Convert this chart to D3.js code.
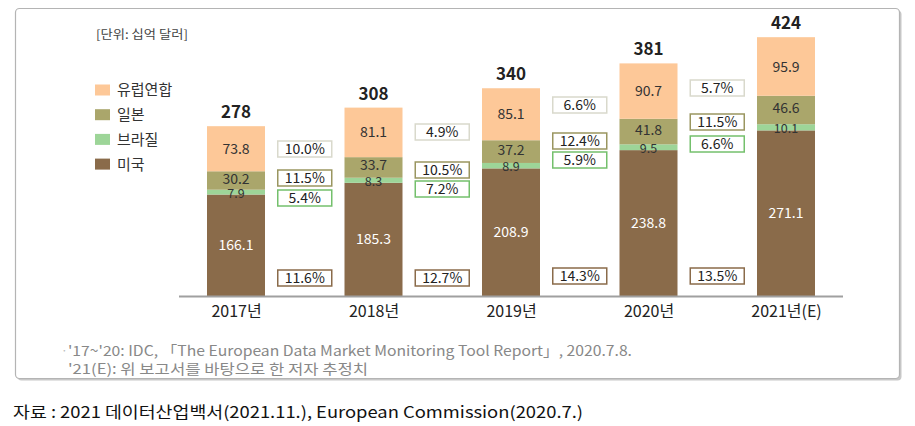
<!DOCTYPE html>
<html><head><meta charset="utf-8">
<script src="https://cdn.jsdelivr.net/npm/d3@7"></script>
<style>
html,body{margin:0;padding:0;background:#fff;}
svg{display:block;}
text{font-family:"Noto Sans CJK KR","Noto Sans",sans-serif;}
</style></head>
<body><svg id="c" width="915" height="426"></svg>
<script>
// ---- data ----
const years = ["2017년","2018년","2019년","2020년","2021년(E)"];
const seriesNames = ["미국","브라질","일본","유럽연합"];
const us = [166.1,185.3,208.9,238.8,271.1];
const brazil = [7.9,8.3,8.9,9.5,10.1];
const japan = [30.2,33.7,37.2,41.8,46.6];
const eu = [73.8,81.1,85.1,90.7,95.9];
const totals = [278,308,340,381,424];
const euGrowth = ["10.0%","4.9%","6.6%","5.7%"];
const jpGrowth = ["11.5%","10.5%","12.4%","11.5%"];
const brGrowth = ["5.4%","7.2%","5.9%","6.6%"];
const usGrowth = ["11.6%","12.7%","14.3%","13.5%"];
const legendOrder = ["유럽연합","일본","브라질","미국"];

// ---- layout / style ----
const colors = {"미국":"#8a6b4a","브라질":"#9dd598","일본":"#aaa66b","유럽연합":"#fdc898"};
const boxBorder = {"미국":"#8a6b4a","브라질":"#74c06c","일본":"#9a9660","유럽연합":"#d9d9cc"};
const labelColor = {"미국":"#ffffff","브라질":"#333","일본":"#333","유럽연합":"#333"};
const labelShift = {"미국":0,"브라질":1,"일본":-2,"유럽연합":0};
// growth box vertical centers (px) per gap
const boxY = {
  "유럽연합":[149,132,105,88],
  "일본":[178,170,141,122],
  "브라질":[198,189,160,144],
  "미국":[278,278,276,276]
};

const svg = d3.select("#c");
const x = d3.scalePoint().domain(years).range([236,786]);
const y = d3.scaleLinear().domain([0,424]).range([296,37]);
const barW = 58;

// frame
svg.append("rect").attr("x",17.5).attr("y",10.5).attr("width",884).attr("height",370)
  .attr("rx",4).attr("fill","#c8c8c8");
svg.append("rect").attr("x",15.5).attr("y",8.5).attr("width",884).attr("height",370)
  .attr("rx",4).attr("fill","#fff").attr("stroke","#b4b4b4").attr("stroke-width",1.2);

// unit
svg.append("text").attr("x",96).attr("y",39).attr("font-size",12).attr("fill","#444")
  .attr("textLength",92).attr("lengthAdjust","spacingAndGlyphs")
  .text("[단위: 십억 달러]");

// stacked data
const valuesBy = {"미국":us,"브라질":brazil,"일본":japan,"유럽연합":eu};
const rows = years.map((yr,i)=>{const r={year:yr}; seriesNames.forEach(s=>r[s]=valuesBy[s][i]); return r;});
const stack = d3.stack().keys(seriesNames)(rows);

const g = svg.append("g");
stack.forEach(layer=>{
  const key = layer.key;
  g.selectAll(null).data(layer).join("rect")
    .attr("x",d=>x(d.data.year)-barW/2)
    .attr("y",d=>y(d[1]))
    .attr("width",barW)
    .attr("height",d=>y(d[0])-y(d[1]))
    .attr("fill",colors[key]);
});
stack.forEach(layer=>{
  const key = layer.key;
  g.selectAll(null).data(layer).join("text")
    .attr("x",d=>x(d.data.year))
    .attr("y",d=>(y(d[0])+y(d[1]))/2 + labelShift[key])
    .attr("dy","0.36em")
    .attr("text-anchor","middle")
    .attr("font-size",key==="브라질"?12.5:14)
    .attr("fill",labelColor[key])
    .text(d=>d.data[key].toFixed(1));
});

// totals
g.selectAll(null).data(years).join("text")
  .attr("x",d=>x(d)).attr("y",(d,i)=>y(totals[i])-8)
  .attr("text-anchor","middle").attr("font-size",17).attr("font-weight","bold").attr("fill","#222")
  .text((d,i)=>totals[i]);

// axis baseline
svg.append("line").attr("x1",179).attr("x2",843).attr("y1",296.5).attr("y2",296.5)
  .attr("stroke","#a0a0a0").attr("stroke-width",2);

// x labels
const xAxis = d3.axisBottom(x).tickSize(0).tickPadding(8);
const ax = svg.append("g").attr("transform","translate(0,298)").call(xAxis);
ax.select(".domain").remove();
ax.selectAll("text").attr("font-size",16).attr("fill","#222")
  .attr("font-family","\"Noto Sans CJK KR\",sans-serif");

// growth boxes
const growthBy = {"유럽연합":euGrowth,"일본":jpGrowth,"브라질":brGrowth,"미국":usGrowth};
const bw=54, bh=16;
legendOrder.forEach(key=>{
  growthBy[key].forEach((v,i)=>{
    const cx = (x(years[i])+x(years[i+1]))/2;
    const cy = boxY[key][i];
    svg.append("rect").attr("x",cx-bw/2).attr("y",cy-bh/2).attr("width",bw).attr("height",bh)
      .attr("fill","#fff").attr("stroke",boxBorder[key]).attr("stroke-width",1.5);
    svg.append("text").attr("x",cx).attr("y",cy).attr("dy","0.36em").attr("text-anchor","middle")
      .attr("font-size",14).attr("fill","#222").text(v);
  });
});

// legend
legendOrder.forEach((key,i)=>{
  const ly = 90 + i*24.7;
  svg.append("rect").attr("x",95).attr("y",ly-5.5).attr("width",15).attr("height",11).attr("fill",colors[key]);
  svg.append("text").attr("x",117).attr("y",ly).attr("dy","0.36em").attr("font-size",15).attr("fill","#333").text(key);
});

// footnotes
svg.append("text").attr("x",61).attr("y",351).attr("dy","0.35em").attr("font-size",12).attr("fill","#bbb").text("·");
svg.append("text").attr("x",68).attr("y",351).attr("dy","0.35em").attr("font-size",14).attr("fill","#888")
  .attr("textLength",564).attr("lengthAdjust","spacingAndGlyphs")
  .text("'17~'20: IDC, 「The European Data Market Monitoring Tool Report」, 2020.7.8.");
svg.append("text").attr("x",68).attr("y",369).attr("dy","0.35em").attr("font-size",14).attr("fill","#888")
  .attr("textLength",300).attr("lengthAdjust","spacingAndGlyphs")
  .text("'21(E): 위 보고서를 바탕으로 한 저자 추정치");

// source caption
svg.append("text").attr("x",13).attr("y",412).attr("dy","0.36em").attr("font-size",16).attr("fill","#111")
  .attr("textLength",570).attr("lengthAdjust","spacingAndGlyphs")
  .text("자료 : 2021 데이터산업백서(2021.11.), European Commission(2020.7.)");
</script></body></html>
